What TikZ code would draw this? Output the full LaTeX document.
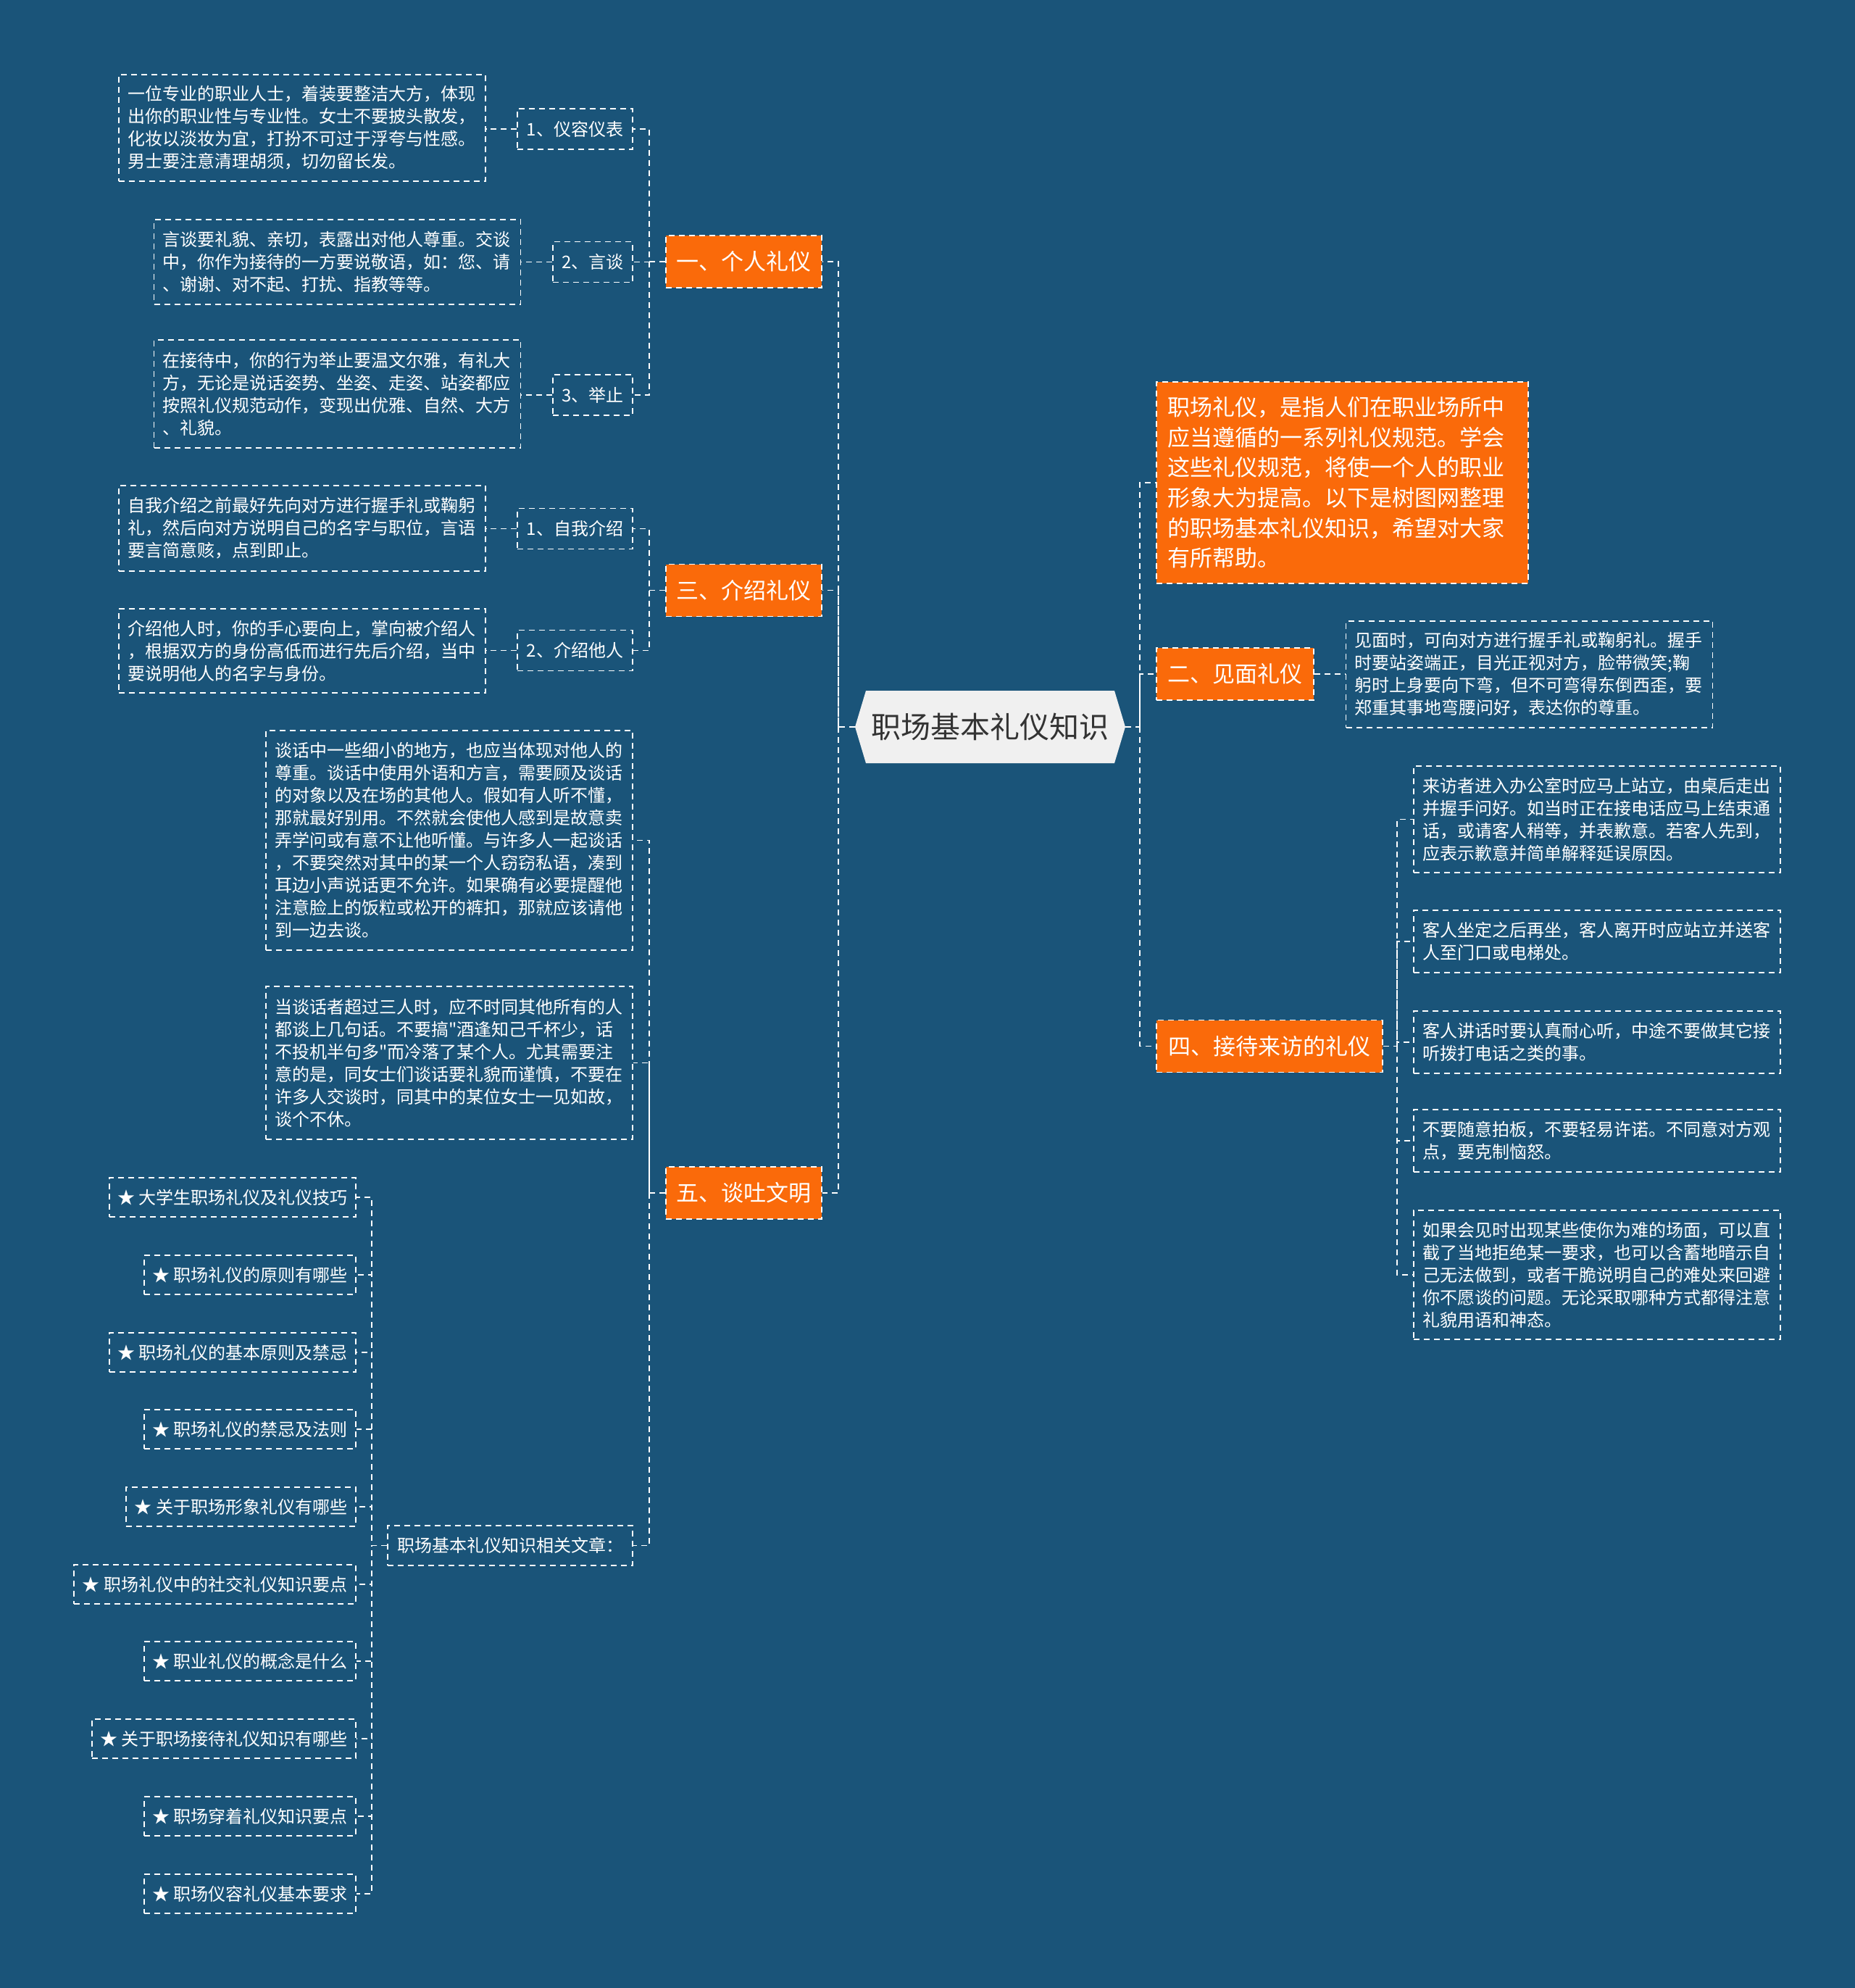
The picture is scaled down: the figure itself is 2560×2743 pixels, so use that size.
\documentclass[tikz,border=0pt]{standalone}
\usepackage{fontspec}
\setmainfont{Noto Sans CJK SC}[Ligatures=TeXOff]
\definecolor{bgC}{HTML}{1A5479}
\definecolor{orangeC}{HTML}{FA6A0A}
\definecolor{rootC}{HTML}{F0F0F0}
\definecolor{rootT}{HTML}{333333}
\tikzset{
 conn/.style={draw=white, line width=0.9pt, dash pattern=on 4pt off 3pt},
 box/.style={draw=white, line width=0.9pt, dash pattern=on 4pt off 3pt, text=white},
 txtbox/.style={box, font=\fontsize{12pt}{15.5pt}\selectfont, align=left, text width=241pt, inner xsep=6pt, inner ysep=5pt},
 lab/.style={box, font=\fontsize{12pt}{15.5pt}\selectfont, inner sep=3pt, minimum height=28pt},
 star/.style={box, font=\fontsize{12pt}{15.5pt}\selectfont, inner sep=3pt, minimum height=27pt, anchor=east},
 lvl/.style={box, fill=orangeC, font=\fontsize{15.5pt}{18pt}\selectfont, minimum height=36pt, inner sep=3pt},
}
\begin{document}
\begin{tikzpicture}[x=0.5pt, y=-0.5pt]
\fill[bgC] (0,0) rectangle (2560,2743);
\useasboundingbox (0,0) rectangle (2560,2743);
% root hexagon
\fill[rootC] (1180,1003) -- (1195,953) -- (1538,953) -- (1553,1003) -- (1538,1053) -- (1195,1053) -- cycle;
\node[text=rootT, font=\fontsize{20.5pt}{24pt}\selectfont, minimum width=186.5pt, minimum height=50pt, inner sep=0pt] (root) at (1366.5,1003) {职场基本礼仪知识};

% level 1 left
\node[lvl, minimum width=107.5pt] (n1) at (1026.5,361) {一、个人礼仪};
\node[lvl, minimum width=107.5pt] (n3) at (1026.5,814.5) {三、介绍礼仪};
\node[lvl, minimum width=107.5pt] (n5) at (1026.5,1646) {五、谈吐文明};

% level 1 right
\node[box, fill=orangeC, font=\fontsize{15.5pt}{20.8pt}\selectfont, align=left, text width=241pt, inner xsep=7.75pt, minimum height=139pt] (intro) at (1852.5,666) {职场礼仪，是指人们在职业场所中\\应当遵循的一系列礼仪规范。学会\\这些礼仪规范，将使一个人的职业\\形象大为提高。以下是树图网整理\\的职场基本礼仪知识，希望对大家\\有所帮助。};
\node[lvl, minimum width=108.5pt] (n2) at (1704.5,930) {二、见面礼仪};
\node[lvl, minimum width=156pt] (n4) at (1752,1443.5) {四、接待来访的礼仪};

% section 一
\node[lab, minimum width=79.5pt] (a1lab) at (793.5,178) {1、仪容仪表};
\node[txtbox, minimum height=73.5pt] (a1txt) at (417,176.5) {一位专业的职业人士，着装要整洁大方，体现\\出你的职业性与专业性。女士不要披头散发，\\化妆以淡妆为宜，打扮不可过于浮夸与性感。\\男士要注意清理胡须，切勿留长发。};
\node[lab, minimum width=55pt] (a2lab) at (818,361.5) {2、言谈};
\node[txtbox, minimum height=58.5pt] (a2txt) at (465.5,361.5) {言谈要礼貌、亲切，表露出对他人尊重。交谈\\中，你作为接待的一方要说敬语，如：您、请\\、谢谢、对不起、打扰、指教等等。};
\node[lab, minimum width=55pt] (a3lab) at (818,545) {3、举止};
\node[txtbox, minimum height=74.5pt] (a3txt) at (465.5,543.5) {在接待中，你的行为举止要温文尔雅，有礼大\\方，无论是说话姿势、坐姿、走姿、站姿都应\\按照礼仪规范动作，变现出优雅、自然、大方\\、礼貌。};

% section 三
\node[lab, minimum width=79.5pt] (b1lab) at (793.5,729.5) {1、自我介绍};
\node[txtbox, minimum height=59pt] (b1txt) at (417,729) {自我介绍之前最好先向对方进行握手礼或鞠躬\\礼，然后向对方说明自己的名字与职位，言语\\要言简意赅，点到即止。};
\node[lab, minimum width=79.5pt] (b2lab) at (793.5,897.5) {2、介绍他人};
\node[txtbox, minimum height=58pt] (b2txt) at (417,898) {介绍他人时，你的手心要向上，掌向被介绍人\\，根据双方的身份高低而进行先后介绍，当中\\要说明他人的名字与身份。};

% section 五
\node[txtbox, minimum height=151.5pt] (c1) at (620,1159.5) {谈话中一些细小的地方，也应当体现对他人的\\尊重。谈话中使用外语和方言，需要顾及谈话\\的对象以及在场的其他人。假如有人听不懂，\\那就最好别用。不然就会使他人感到是故意卖\\弄学问或有意不让他听懂。与许多人一起谈话\\，不要突然对其中的某一个人窃窃私语，凑到\\耳边小声说话更不允许。如果确有必要提醒他\\注意脸上的饭粒或松开的裤扣，那就应该请他\\到一边去谈。};
\node[txtbox, minimum height=105.5pt] (c2) at (620,1466.5) {当谈话者超过三人时，应不时同其他所有的人\\都谈上几句话。不要搞"酒逢知己千杯少，话\\不投机半句多"而冷落了某个人。尤其需要注\\意的是，同女士们谈话要礼貌而谨慎，不要在\\许多人交谈时，同其中的某位女士一见如故，\\谈个不休。};
\node[lab, minimum width=169pt, minimum height=27.5pt] (c3) at (704,2132.5) {职场基本礼仪知识相关文章：};

\node[star, minimum width=170pt] (s1) at (492,1652) {★ 大学生职场礼仪及礼仪技巧};
\node[star, minimum width=146pt] (s2) at (492,1759) {★ 职场礼仪的原则有哪些};
\node[star, minimum width=170pt] (s3) at (492,1866) {★ 职场礼仪的基本原则及禁忌};
\node[star, minimum width=146pt] (s4) at (492,1972) {★ 职场礼仪的禁忌及法则};
\node[star, minimum width=158.5pt] (s5) at (492,2079) {★ 关于职场形象礼仪有哪些};
\node[star, minimum width=194.5pt] (s6) at (492,2186) {★ 职场礼仪中的社交礼仪知识要点};
\node[star, minimum width=146pt] (s7) at (492,2292) {★ 职业礼仪的概念是什么};
\node[star, minimum width=182pt] (s8) at (492,2399) {★ 关于职场接待礼仪知识有哪些};
\node[star, minimum width=146pt] (s9) at (492,2506) {★ 职场穿着礼仪知识要点};
\node[star, minimum width=146pt] (s10) at (492,2613) {★ 职场仪容礼仪基本要求};

% section 二 text
\node[txtbox, minimum height=73.5pt] (n2txt) at (2110.5,930.5) {见面时，可向对方进行握手礼或鞠躬礼。握手\\时要站姿端正，目光正视对方，脸带微笑;鞠\\躬时上身要向下弯，但不可弯得东倒西歪，要\\郑重其事地弯腰问好，表达你的尊重。};

% section 四
\node[txtbox, minimum height=73.5pt] (r1) at (2204,1130.5) {来访者进入办公室时应马上站立，由桌后走出\\并握手问好。如当时正在接电话应马上结束通\\话，或请客人稍等，并表歉意。若客人先到，\\应表示歉意并简单解释延误原因。};
\node[txtbox, minimum height=43pt] (r2) at (2204,1299) {客人坐定之后再坐，客人离开时应站立并送客\\人至门口或电梯处。};
\node[txtbox, minimum height=43pt] (r3) at (2204,1438) {客人讲话时要认真耐心听，中途不要做其它接\\听拨打电话之类的事。};
\node[txtbox, minimum height=43pt] (r4) at (2204,1574) {不要随意拍板，不要轻易许诺。不同意对方观\\点，要克制恼怒。};
\node[txtbox, minimum height=89pt] (r5) at (2204,1759) {如果会见时出现某些使你为难的场面，可以直\\截了当地拒绝某一要求，也可以含蓄地暗示自\\己无法做到，或者干脆说明自己的难处来回避\\你不愿谈的问题。无论采取哪种方式都得注意\\礼貌用语和神态。};

% junctions
\coordinate (jL) at (1157,1003);
\coordinate (jR) at (1573,1003);
\coordinate (j1) at (896,361);
\coordinate (j3) at (896,814.5);
\coordinate (j5) at (896,1646);
\coordinate (js) at (513,2132.5);
\coordinate (j4) at (1928,1443.5);

% connectors
\draw[conn] (root.west) -- (jL) |- (n1.east);
\draw[conn] (jL) |- (n3.east);
\draw[conn] (jL) |- (n5.east);
\draw[conn] (root.east) -- (jR) |- (intro.west);
\draw[conn] (jR) |- (n2.west);
\draw[conn] (jR) |- (n4.west);

\draw[conn] (n1.west) -- (j1) |- (a1lab.east);
\draw[conn] (j1) |- (a2lab.east);
\draw[conn] (j1) |- (a3lab.east);
\draw[conn] (a1lab.west) -- (a1lab.west -| a1txt.east);
\draw[conn] (a2lab.west) -- (a2lab.west -| a2txt.east);
\draw[conn] (a3lab.west) -- (a3lab.west -| a3txt.east);

\draw[conn] (n3.west) -- (j3) |- (b1lab.east);
\draw[conn] (j3) |- (b2lab.east);
\draw[conn] (b1lab.west) -- (b1lab.west -| b1txt.east);
\draw[conn] (b2lab.west) -- (b2lab.west -| b2txt.east);

\draw[conn] (n5.west) -- (j5) |- (c1.east);
\draw[conn] (j5) |- (c2.east);
\draw[conn] (j5) |- (c3.east);

\foreach \s in {s1,s2,s3,s4,s5,s6,s7,s8,s9,s10}
  \draw[conn] (c3.west) -- (js) |- (\s.east);

\draw[conn] (n2.east) -- (n2.east -| n2txt.west);

\draw[conn] (n4.east) -- (j4) |- (r1.west);
\foreach \r in {r2,r3,r4,r5}
  \draw[conn] (j4) |- (\r.west);
\end{tikzpicture}
\end{document}
